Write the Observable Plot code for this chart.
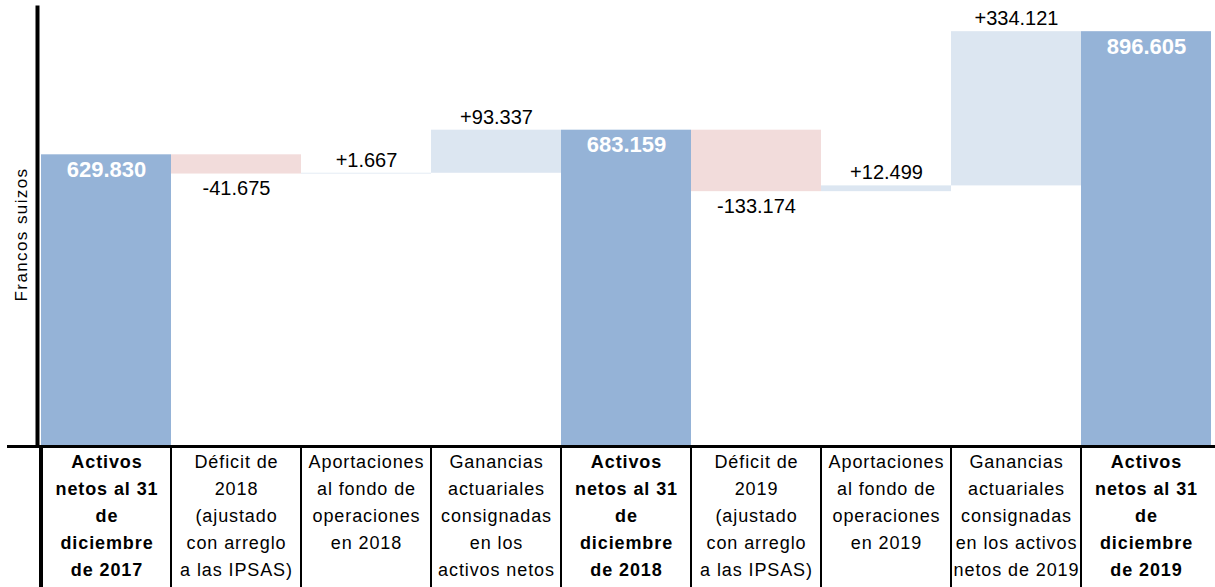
<!DOCTYPE html>
<html><head><meta charset="utf-8">
<script src="https://cdn.jsdelivr.net/npm/d3@7"></script>
<script src="https://cdn.jsdelivr.net/npm/@observablehq/plot@0.6"></script>
<style>
html,body{margin:0;padding:0;background:#fff;}
#wrap{position:relative;width:1215px;height:587px;overflow:hidden;font-family:"Liberation Sans",Arial,sans-serif;}
#chart svg{display:block;}
#table{position:absolute;left:0;top:445px;width:1215px;height:142px;}
.topline{position:absolute;left:7px;right:0;top:0;height:3px;background:#000;}
.cell{position:absolute;top:3px;bottom:0;box-sizing:border-box;border-left:2px solid #000;text-align:center;font-size:18px;letter-spacing:0.9px;line-height:27px;padding-top:1px;white-space:pre;color:#000;}
.cell.bold{font-weight:bold;}
</style></head><body>
<div id="wrap"><div id="chart"></div><div id="table"></div></div>
<script>
// ---- data ----
const categories = [
  "Activos\nnetos al 31\nde\ndiciembre\nde 2017",
  "Déficit de\n2018\n(ajustado\ncon arreglo\na las IPSAS)",
  "Aportaciones\nal fondo de\noperaciones\nen 2018",
  "Ganancias\nactuariales\nconsignadas\nen los\nactivos netos",
  "Activos\nnetos al 31\nde\ndiciembre\nde 2018",
  "Déficit de\n2019\n(ajustado\ncon arreglo\na las IPSAS)",
  "Aportaciones\nal fondo de\noperaciones\nen 2019",
  "Ganancias\nactuariales\nconsignadas\nen los activos\nnetos de 2019",
  "Activos\nnetos al 31\nde\ndiciembre\nde 2019"
];
const values = [629830, -41675, 1667, 93337, 683159, -133174, 12499, 334121, 896605];
const kinds = ["total", "decrease", "increase", "increase", "total", "decrease", "increase", "increase", "total"];
const yLabel = "Francos suizos";

// ---- waterfall rows ----
let running = 0;
const rows = categories.map((cat, i) => {
  const v = values[i];
  if (kinds[i] === "total") { running = v; return {cat, kind: kinds[i], value: v, y1: 0, y2: v}; }
  const start = running; running += v;
  return {cat, kind: kinds[i], value: v, y1: start, y2: running};
});

const loc = d3.formatLocale({decimal: ",", thousands: ".", grouping: [3], currency: ["", ""], minus: "-"});
const fmt = loc.format(",");
const fmtS = loc.format("+,");

const chart = Plot.plot({
  width: 1215, height: 445,
  marginLeft: 37, marginRight: 0, marginTop: 7, marginBottom: 0,
  style: {fontFamily: "Liberation Sans, Arial, sans-serif", background: "white"},
  x: {domain: categories, padding: 0, axis: null},
  y: {domain: [0, 949000], axis: null},
  color: {domain: ["total", "increase", "decrease"], range: ["#95B3D7", "#DCE6F1", "#F2DCDB"]},
  marks: [
    Plot.barY(rows, {x: "cat", y1: "y1", y2: "y2", fill: "kind", inset: 0}),
    Plot.text(rows.filter(d => d.kind === "total"), {x: "cat", y: "y2", text: d => fmt(d.value), dy: 15, fill: "white", fontWeight: "bold", fontSize: 22}),
    Plot.text(rows.filter(d => d.kind === "increase"), {x: "cat", y: "y2", text: d => fmtS(d.value), dy: -13, fill: "black", fontSize: 20}),
    Plot.text(rows.filter(d => d.kind === "decrease"), {x: "cat", y: "y2", text: d => fmtS(d.value), dy: 15, fill: "black", fontSize: 20}),
    Plot.text([yLabel], {text: d => d, frameAnchor: "left", textAnchor: "middle", rotate: -90, dx: -16, dy: 8, fill: "black", fontSize: 17}),
    Plot.frame({anchor: "left", stroke: "black", strokeWidth: 4})
  ]
});
document.getElementById("chart").appendChild(chart);
d3.select(chart).selectAll("text").filter(function() { return this.textContent === yLabel; }).attr("letter-spacing", "1.4px");

// ---- table below, positioned with the plot's x scale ----
const xs = chart.scale("x");
const tableEl = document.getElementById("table");
const topLine = document.createElement("div"); topLine.className = "topline"; tableEl.appendChild(topLine);
categories.forEach((cat, i) => {
  const c = document.createElement("div");
  c.className = "cell" + (kinds[i] === "total" ? " bold" : "");
  const x0 = xs.apply(cat);
  if (i === 0) { c.style.left = (x0 - 2) + "px"; c.style.borderLeftWidth = "4px"; c.style.width = (xs.bandwidth + 2) + "px"; }
  else { c.style.left = (x0 - 1) + "px"; c.style.width = (xs.bandwidth + 1) + "px"; }
  c.textContent = cat;
  tableEl.appendChild(c);
});
</script>
</body></html>
